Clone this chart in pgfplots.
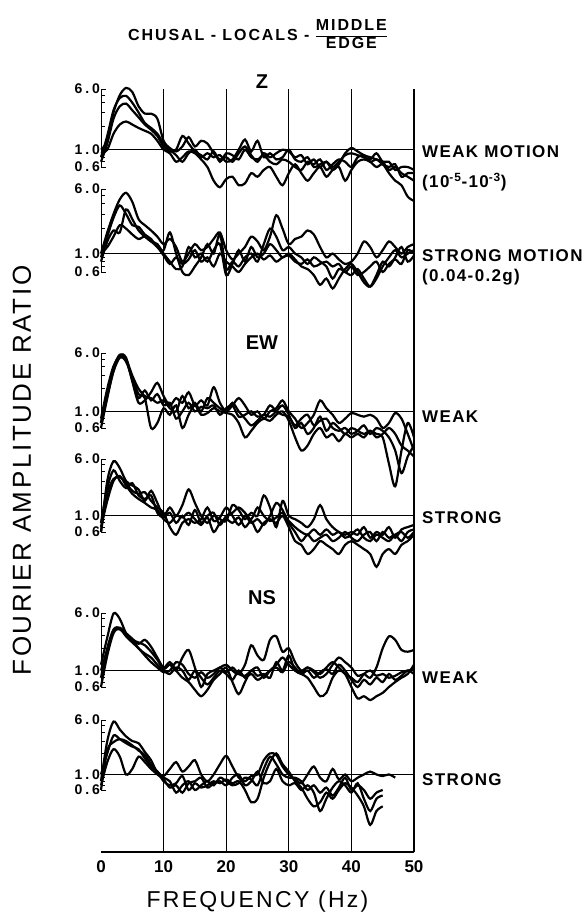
\documentclass[border=0pt]{standalone}
\usepackage{fontspec}
\setmainfont{Liberation Sans}
\usepackage{pgfplots}
\usepackage{pgfplotstable}
\pgfplotsset{compat=1.18}

% spectral ratios middle/edge (f in Hz)
\pgfplotstableread{
f a b c d
0 1.0 0.8 0.7 0.9
1 1.3 1.5 1.2 1.0
2 3.0 3.2 2.5 1.6
3 5.0 4.6 3.6 2.1
4 6.2 4.9 3.9 2.3
5 5.5 4.0 3.2 2.1
6 3.6 3.0 2.6 1.9
7 2.9 2.2 2.1 1.75
8 2.9 1.9 1.8 1.6
9 2.5 1.6 1.5 1.3
10 1.3 1.2 1.1 1.0
11 1.05 1.0 0.95 0.9
12 0.95 0.85 1.0 0.7
13 1.1 0.7 1.5 0.8
14 1.45 0.9 1.2 0.95
15 1.1 1.0 0.95 0.9
16 1.3 0.8 0.85 0.75
17 1.2 0.9 0.75 0.6
18 0.9 0.8 0.95 0.4
19 0.75 0.85 0.7 0.33
20 0.8 0.7 0.9 0.42
21 0.7 0.75 0.85 0.45
22 0.9 1.0 0.75 0.35
23 1.1 1.35 1.0 0.37
24 0.85 0.95 0.8 0.5
25 0.7 1.3 0.75 0.45
26 0.9 0.8 0.85 0.55
27 0.8 0.9 0.7 0.6
28 0.9 0.75 0.65 0.45
29 1.0 0.8 0.75 0.35
30 0.95 1.0 0.7 0.5
31 0.8 0.75 0.6 0.65
32 0.85 0.7 0.55 0.5
33 0.65 0.8 0.7 0.4
34 0.75 0.6 0.65 0.5
35 0.6 0.65 0.75 0.6
36 0.7 0.7 0.55 0.45
37 0.55 0.6 0.65 0.55
38 0.65 0.7 0.75 0.6
39 0.9 0.85 0.7 0.4
40 1.05 0.9 0.6 0.55
41 0.95 0.85 0.8 0.7
42 0.85 0.8 0.85 0.75
43 0.8 0.75 0.7 0.7
44 0.75 0.9 0.75 0.6
45 0.7 0.7 0.65 0.65
46 0.55 0.7 0.6 0.5
47 0.6 0.55 0.65 0.4
48 0.5 0.6 0.45 0.35
49 0.45 0.6 0.5 0.25
50 0.4 0.55 0.5 0.22
}\zweak

\pgfplotstableread{
f a b c d
0 1.0 0.9 0.8 1.0
1 1.8 1.6 1.4 1.2
2 3.0 2.7 1.9 1.6
3 4.5 3.8 1.8 2.2
4 5.4 3.0 3.4 2.0
5 4.2 2.2 2.6 1.7
6 2.6 2.1 1.9 1.5
7 2.2 1.7 1.6 1.6
8 1.9 1.5 1.4 1.4
9 1.6 1.2 1.3 1.2
10 1.3 1.1 1.0 0.95
11 1.5 1.8 0.8 0.75
12 1.2 1.0 0.65 0.9
13 0.8 0.6 0.7 0.75
14 1.0 0.55 1.2 0.85
15 1.3 0.7 0.9 1.1
16 1.1 0.9 1.0 0.8
17 1.2 1.3 0.8 0.9
18 1.5 1.0 1.1 0.7
19 1.8 1.7 1.3 1.0
20 1.1 0.65 0.55 0.8
21 0.85 0.8 0.75 0.7
22 1.0 0.7 1.1 0.6
23 1.2 0.9 0.8 0.75
24 1.6 1.0 1.2 0.9
25 1.4 0.8 0.9 1.0
26 1.1 1.3 1.0 0.85
27 1.6 2.0 1.3 0.95
28 2.9 1.6 1.1 0.8
29 2.0 1.1 0.9 0.9
30 1.3 1.2 1.0 0.95
31 1.5 1.0 0.85 0.8
32 1.6 0.9 0.7 0.75
33 1.9 0.75 0.65 0.85
34 1.7 0.9 0.55 0.7
35 1.2 0.8 0.42 0.75
36 0.9 0.7 0.5 0.8
37 1.0 0.5 0.38 0.7
38 0.85 0.65 0.5 0.75
39 0.75 0.6 0.65 0.6
40 0.8 0.55 0.75 0.7
41 1.0 0.65 0.6 0.55
42 1.4 0.5 0.45 0.6
43 1.2 0.4 0.4 0.7
44 0.9 0.5 0.55 0.8
45 1.1 0.7 0.8 0.6
46 1.4 0.9 0.7 0.75
47 1.2 1.1 0.9 0.85
48 1.0 0.9 1.2 0.75
49 1.2 1.0 0.8 1.1
50 1.3 1.1 0.95 1.0
}\zstrong

\pgfplotstableread{
f a b c d
0 0.6 0.7 0.8 0.7
1 1.5 1.8 2.0 1.6
2 3.5 3.8 4.0 3.4
3 5.6 5.7 5.4 5.2
4 5.2 5.0 4.6 4.8
5 2.5 3.0 2.8 2.6
6 1.3 2.0 1.7 1.5
7 1.4 1.6 1.5 1.9
8 1.8 1.5 0.6 1.4
9 2.4 1.3 0.7 1.7
10 1.6 1.4 1.1 1.2
11 1.2 1.1 0.9 1.3
12 1.5 1.0 1.2 0.8
13 1.3 1.6 0.6 1.0
14 1.8 1.1 0.9 1.3
15 1.2 1.3 1.2 1.0
16 1.4 1.0 0.9 1.15
17 1.2 1.5 0.95 1.1
18 2.1 1.3 1.1 1.2
19 1.3 1.1 1.0 0.9
20 1.0 1.0 0.95 1.1
21 1.2 1.3 0.9 1.2
22 1.5 1.0 0.7 0.85
23 1.2 0.8 0.45 0.9
24 0.9 0.65 0.55 1.0
25 1.0 0.75 0.7 0.85
26 0.8 0.9 0.8 0.9
27 1.0 0.85 0.75 1.2
28 1.1 1.0 0.9 1.0
29 1.4 1.2 1.0 0.9
30 1.0 0.9 0.75 0.85
31 0.8 0.6 0.45 0.65
32 0.6 0.7 0.3 0.8
33 0.7 0.5 0.35 0.9
34 0.9 0.6 0.5 0.65
35 1.4 0.85 0.6 0.75
36 1.1 0.55 0.45 0.8
37 0.9 0.7 0.5 0.6
38 0.7 0.6 0.4 0.55
39 0.8 0.5 0.5 0.6
40 0.95 0.6 0.45 0.5
41 0.9 0.55 0.5 0.55
42 0.85 0.5 0.45 0.65
43 0.9 0.55 0.55 0.5
44 0.8 0.5 0.45 0.6
45 0.6 0.45 0.5 0.55
46 0.7 0.2 0.6 0.45
47 0.95 0.1 0.5 0.3
48 0.8 0.3 0.35 0.15
49 0.5 0.7 0.3 0.25
50 0.3 0.45 0.25 0.35
}\ewweak

\pgfplotstableread{
f a b c d
0 0.6 0.6 0.7 0.8
1 3.0 2.0 1.6 2.4
2 5.6 3.2 3.0 4.2
3 4.5 3.4 3.5 3.0
4 3.0 2.8 2.6 2.4
5 2.6 2.2 2.0 2.8
6 2.3 2.0 1.7 1.9
7 1.6 2.1 1.5 1.7
8 2.2 1.6 1.3 1.9
9 1.5 1.3 1.2 1.1
10 1.0 1.1 0.9 0.95
11 1.3 0.7 0.8 1.1
12 1.0 0.55 1.0 0.8
13 1.4 0.8 0.95 1.0
14 2.3 0.9 1.1 0.75
15 1.5 0.8 0.9 1.2
16 1.0 0.9 0.75 0.8
17 0.8 1.3 0.95 1.0
18 1.0 0.85 0.6 1.1
19 0.9 0.95 0.8 0.75
20 0.85 1.3 0.9 1.0
21 1.4 1.0 0.8 1.1
22 1.2 0.75 0.95 1.3
23 0.9 1.0 0.7 1.1
24 1.1 0.8 0.85 0.9
25 1.0 0.9 0.6 1.3
26 1.9 0.75 0.8 1.0
27 1.3 1.0 0.9 0.85
28 0.7 1.5 0.8 0.95
29 1.6 1.2 1.0 1.1
30 1.0 0.8 0.7 0.85
31 0.9 0.6 0.45 0.7
32 0.8 0.45 0.4 0.6
33 0.7 0.55 0.3 0.55
34 0.9 0.45 0.35 0.65
35 1.4 0.5 0.45 0.55
36 0.9 0.55 0.4 0.65
37 0.7 0.45 0.35 0.55
38 0.6 0.5 0.3 0.6
39 0.55 0.6 0.4 0.5
40 0.6 0.5 0.45 0.55
41 0.55 0.45 0.4 0.65
42 0.7 0.55 0.35 0.5
43 0.5 0.6 0.3 0.45
44 0.6 0.45 0.2 0.55
45 0.55 0.6 0.3 0.5
46 0.7 0.5 0.35 0.45
47 0.5 0.55 0.3 0.55
48 0.65 0.45 0.4 0.6
49 0.7 0.6 0.45 0.5
50 0.75 0.65 0.55 0.6
}\ewstrong

\pgfplotstableread{
f a b c d
0 1.2 0.8 0.6 1.0
1 2.8 2.0 1.6 1.9
2 5.9 3.6 3.2 3.4
3 5.0 3.8 3.7 3.6
4 3.2 3.2 2.9 3.0
5 2.6 2.7 2.4 2.6
6 2.4 2.3 2.0 2.0
7 2.2 2.6 1.6 1.7
8 1.8 2.1 1.3 1.5
9 1.4 1.5 1.1 1.2
10 1.05 1.1 0.95 1.0
11 1.2 1.3 1.0 0.9
12 1.0 1.0 1.3 1.1
13 1.5 0.8 1.2 1.0
14 1.9 0.7 0.9 0.75
15 1.1 0.55 0.8 1.0
16 0.6 0.45 0.95 0.8
17 0.9 0.55 0.8 0.65
18 1.0 0.75 0.9 0.8
19 1.1 0.9 1.1 1.0
20 1.2 1.1 0.95 0.9
21 1.0 0.7 1.1 0.75
22 0.9 0.48 0.9 1.0
23 1.2 0.7 0.85 0.8
24 2.2 1.0 1.0 0.9
25 1.6 0.85 1.1 0.75
26 1.4 0.9 0.8 0.85
27 2.6 0.8 1.0 1.0
28 2.9 1.3 1.2 1.1
29 1.8 1.0 1.5 0.95
30 2.0 1.6 1.2 1.3
31 1.3 1.0 1.0 1.1
32 1.0 0.9 0.95 0.9
33 1.1 0.8 1.1 1.0
34 0.95 0.6 1.0 0.8
35 0.8 0.45 0.9 0.95
36 0.9 0.5 1.1 1.05
37 1.2 0.8 1.3 0.9
38 1.5 1.0 1.1 1.2
39 1.3 0.9 0.9 1.0
40 1.1 0.6 0.8 0.75
41 0.85 0.42 0.7 0.6
42 0.9 0.45 0.9 0.75
43 0.8 0.4 1.0 0.65
44 1.1 0.45 0.85 0.8
45 2.0 0.5 0.9 0.7
46 2.9 0.6 0.8 0.9
47 2.6 0.7 0.85 0.75
48 1.9 0.8 0.95 0.85
49 1.8 0.9 1.0 1.0
50 1.9 1.2 1.05 0.9
}\nsweak

\pgfplotstableread{
f a b c d
0 0.8 0.6 0.7 1.0
1 3.0 2.2 1.5 2.0
2 5.7 2.9 2.3 3.6
3 4.4 3.2 1.8 3.2
4 3.5 3.0 1.0 2.8
5 3.0 2.6 1.2 2.5
6 2.8 2.2 1.8 2.3
7 2.1 1.9 1.5 1.7
8 1.6 1.4 1.2 1.3
9 1.05 1.1 1.0 1.1
10 0.95 0.8 0.85 0.9
11 1.2 0.7 0.65 0.8
12 1.5 0.75 0.7 0.55
13 1.1 0.95 0.55 0.7
14 1.3 0.6 0.75 0.8
15 1.6 0.75 0.8 0.6
16 1.0 0.65 0.9 0.7
17 0.8 0.7 0.65 0.8
18 1.0 0.8 0.75 0.7
19 1.4 0.75 0.8 0.9
20 1.85 0.85 0.7 0.8
21 1.3 0.75 0.9 0.7
22 0.9 0.8 1.0 0.75
23 0.8 0.6 0.7 0.9
24 0.95 0.4 0.8 0.85
25 1.0 0.45 1.1 0.7
26 1.6 0.9 0.75 1.2
27 2.0 1.5 0.8 1.8
28 1.9 2.0 1.2 1.4
29 1.3 1.4 0.8 1.0
30 1.0 1.1 0.7 0.9
31 0.85 0.8 0.75 0.9
32 0.75 0.65 0.6 0.8
33 1.0 0.45 0.7 0.6
34 1.3 0.35 0.55 0.7
35 0.9 0.4 0.3 0.55
36 0.8 0.55 0.45 0.65
37 1.2 0.45 0.65 0.5
38 0.85 0.6 0.8 0.65
39 1.0 0.75 0.7 0.9
40 0.8 0.65 0.55 0.6
41 0.9 0.5 0.75 0.7
42 1.0 0.35 0.45 0.6
43 1.1 0.19 0.3 0.45
44 1.0 0.3 0.45 0.55
45 0.95 0.35 0.5 0.6
46 1.0 nan nan nan
47 0.9 nan nan nan
}\nsstrong

% look of one ratio panel (log y from 0.6 to 6.0)
\pgfplotsset{
  ratio panel/.style={
    width=313pt, scale only axis, xmin=0, xmax=50,
    ymin=0.6, ymax=6, clip=false,
    axis lines*=left,
    x axis line style={draw=none},
    xtick=\empty,
    y axis line style={line width=1pt},
    ytick={0.6,1,6}, yticklabels={0.6,1.0,6.0},
    minor ytick={0.7,0.8,0.9,2,3,4,5},
    tick align=inside, major tick length=5pt, minor tick length=4pt,
    tick style={black, line width=0.8pt},
    yticklabel style={font=\bfseries\fontsize{14}{14}\selectfont\addfontfeature{LetterSpace=20},
      inner sep=1pt},
    cycle list={black, line width=2.2pt, smooth, tension=0.5\\},
  },
}

\begin{document}
\begin{tikzpicture}
\path[use as bounding box] (0,0) rectangle (584pt,919pt);

% common frequency axis with the grid
\begin{axis}[
  at={(101pt,67pt)}, anchor=south west,
  width=313pt, height=763pt, scale only axis,
  xmin=0, xmax=50, ymin=0, ymax=1,
  axis x line*=bottom, axis y line*=left,
  x axis line style={line width=1.2pt},
  y axis line style={draw=none},
  ytick=\empty,
  xtick={0,10,20,30,40,50},
  major tick length=0pt,
  /pgf/number format/assume math mode=true,
  xticklabel style={font=\bfseries\fontsize{17}{17}\selectfont, yshift=-5pt},
  extra x ticks={10,20,30,40,50}, extra x tick labels={},
  extra x tick style={grid=major, major grid style={black, line width=1.1pt}},
  xlabel={FREQUENCY (Hz)},
  ylabel={FOURIER AMPLITUDE RATIO},
  every axis x label/.style={at={(axis description cs:0.5,-0.0655)}, anchor=center,
    font=\fontsize{23}{23}\selectfont\addfontfeature{LetterSpace=10}},
  every axis y label/.style={at={(axis description cs:-0.2524,0.5)}, anchor=center,
    rotate=90, font=\fontsize{26}{26}\selectfont\addfontfeature{LetterSpace=10}},
  title={CHUSAL - LOCALS - \begin{tabular}[c]{@{}c@{}}MIDDLE\\\hline EDGE\end{tabular}},
  title style={at={(axis description cs:0.5,1.0616)}, anchor=center,
    font=\bfseries\fontsize{16}{17}\selectfont\addfontfeature{LetterSpace=12}},
]
\end{axis}

% Z
\begin{axis}[ymode=log, ratio panel, at={(101pt,752pt)}, anchor=south west, height=78pt]
\addplot[black, line width=1.1pt] coordinates {(0,1) (50,1)};
\addplot table[x=f,y=a]{\zweak};
\addplot table[x=f,y=b]{\zweak};
\addplot table[x=f,y=c]{\zweak};
\addplot table[x=f,y=d]{\zweak};
\end{axis}
\begin{axis}[ymode=log, ratio panel, at={(101pt,647pt)}, anchor=south west, height=83pt]
\addplot[black, line width=1.1pt] coordinates {(0,1) (50,1)};
\addplot table[x=f,y=a]{\zstrong};
\addplot table[x=f,y=b]{\zstrong};
\addplot table[x=f,y=c]{\zstrong};
\addplot table[x=f,y=d]{\zstrong};
\end{axis}

% EW
\begin{axis}[ymode=log, ratio panel, at={(101pt,491pt)}, anchor=south west, height=75pt]
\addplot[black, line width=1.1pt] coordinates {(0,1) (50,1)};
\addplot table[x=f,y=a]{\ewweak};
\addplot table[x=f,y=b]{\ewweak};
\addplot table[x=f,y=c]{\ewweak};
\addplot table[x=f,y=d]{\ewweak};
\end{axis}
\begin{axis}[ymode=log, ratio panel, at={(101pt,387pt)}, anchor=south west, height=73pt]
\addplot[black, line width=1.1pt] coordinates {(0,1) (50,1)};
\addplot table[x=f,y=a]{\ewstrong};
\addplot table[x=f,y=b]{\ewstrong};
\addplot table[x=f,y=c]{\ewstrong};
\addplot table[x=f,y=d]{\ewstrong};
\end{axis}

% NS
\begin{axis}[ymode=log, ratio panel, at={(101pt,232pt)}, anchor=south west, height=74pt]
\addplot[black, line width=1.1pt] coordinates {(0,1) (50,1)};
\addplot table[x=f,y=a]{\nsweak};
\addplot table[x=f,y=b]{\nsweak};
\addplot table[x=f,y=c]{\nsweak};
\addplot table[x=f,y=d]{\nsweak};
\end{axis}
\begin{axis}[ymode=log, ratio panel, at={(101pt,129pt)}, anchor=south west, height=70pt]
\addplot[black, line width=1.1pt] coordinates {(0,1) (50,1)};
\addplot table[x=f,y=a]{\nsstrong};
\addplot table[x=f,y=b]{\nsstrong};
\addplot table[x=f,y=c]{\nsstrong};
\addplot table[x=f,y=d]{\nsstrong};
\end{axis}

% component names and motion labels
\begin{scope}[every node/.style={font=\bfseries\fontsize{20}{20}\selectfont}]
\node at (262pt,837pt) {Z};
\node at (262pt,576pt) {EW};
\node at (262pt,321pt) {NS};
\end{scope}
\begin{scope}[every node/.style={anchor=west, inner sep=0pt,
    font=\bfseries\fontsize{17}{17}\selectfont\addfontfeature{LetterSpace=8}}]
\node at (422pt,767pt) {WEAK MOTION};
\node at (422pt,737pt) {(10\textsuperscript{-5}-10\textsuperscript{-3})};
\node at (422pt,663pt) {STRONG MOTION};
\node at (422pt,642pt) {(0.04-0.2g)};
\node at (422pt,502pt) {WEAK};
\node at (422pt,401pt) {STRONG};
\node at (422pt,241pt) {WEAK};
\node at (422pt,139pt) {STRONG};
\end{scope}
\end{tikzpicture}
\end{document}
